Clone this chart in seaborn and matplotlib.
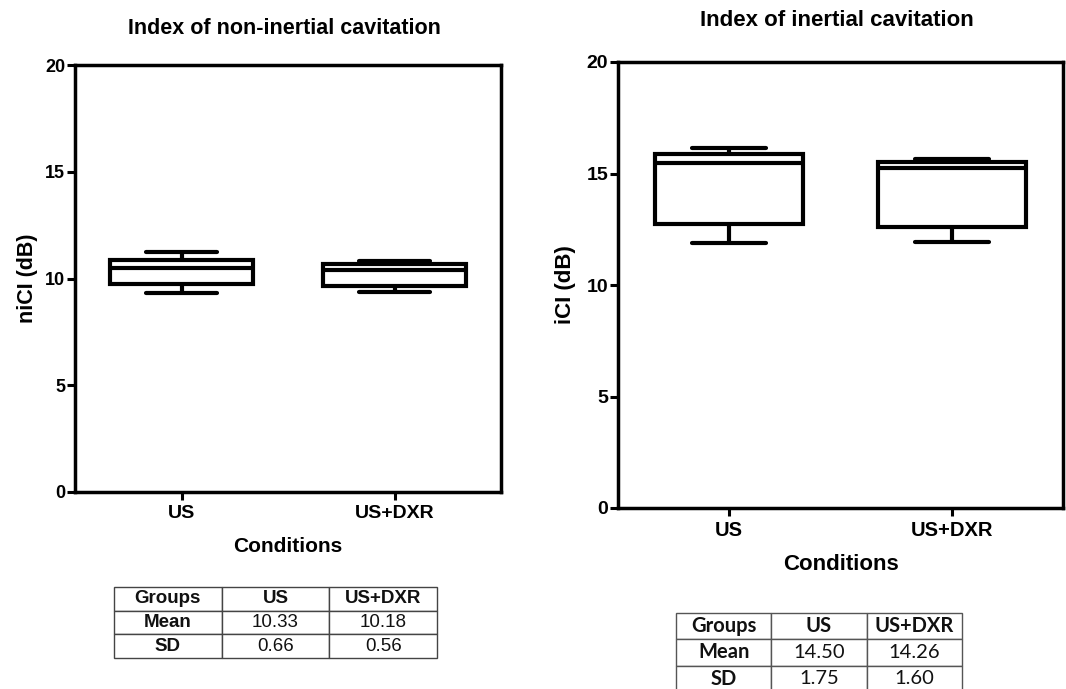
import numpy as np
import pandas as pd
import matplotlib
matplotlib.use("Agg")
import matplotlib.pyplot as plt
import seaborn as sns

# ---------------- data ----------------
categories = ["US", "US+DXR"]
# five-number summaries: min, Q1, median, Q3, max
nici_us = [9.34, 9.76, 10.48, 10.88, 11.22]
nici_dxr = [9.39, 9.67, 10.38, 10.68, 10.81]
ici_us = [11.88, 12.75, 15.45, 15.86, 16.16]
ici_dxr = [11.94, 12.59, 15.25, 15.52, 15.67]
yticks = [0, 5, 10, 15, 20]

table_header = ["Groups", "US", "US+DXR"]
row_names = ["Mean", "SD"]
nici_mean = ["10.33", "10.18"]
nici_sd = ["0.66", "0.56"]
ici_mean = ["14.50", "14.26"]
ici_sd = ["1.75", "1.60"]

sns.set_theme(style="ticks")
plt.rcParams["font.family"] = ["Liberation Sans", "DejaVu Sans"]
plt.rcParams["font.weight"] = "bold"
plt.rcParams["text.color"] = "black"
plt.rcParams["axes.labelcolor"] = "black"
plt.rcParams["xtick.color"] = "black"
plt.rcParams["ytick.color"] = "black"

W, H = 1066, 689
fig = plt.figure(figsize=(W / 100, H / 100), dpi=100)
fig.patch.set_facecolor("white")


def px_axes(x0, y0, x1, y1):
    return fig.add_axes([x0 / W, 1 - y1 / H, (x1 - x0) / W, (y1 - y0) / H])


def make_df(a, b):
    return pd.DataFrame({
        "Condition": [categories[0]] * len(a) + [categories[1]] * len(b),
        "value": list(a) + list(b),
    })


def draw_box(ax, df, ylabel, tick_fs, xtick_fs, xlabel_fs, ylabel_fs,
             xlab_y, ylab_x):
    sns.boxplot(data=df, x="Condition", y="value", order=categories,
                whis=(0, 100), width=0.667, color="white", linecolor="black",
                linewidth=3.0, showfliers=False, saturation=1, ax=ax)
    ax.set_ylim(0, 20)
    ax.set_xlim(-0.5, 1.5)
    ax.set_yticks(yticks)
    ax.set_yticklabels([str(t) for t in yticks])
    for sp in ax.spines.values():
        sp.set_visible(True)
        sp.set_linewidth(2.5)
        sp.set_color("black")
    ax.tick_params(axis="y", length=5.5, width=2.2, pad=1.5,
                   labelsize=tick_fs, colors="black")
    ax.tick_params(axis="x", length=5.5, width=2.2, pad=4,
                   labelsize=xtick_fs, colors="black")
    for lab in ax.get_xticklabels() + ax.get_yticklabels():
        lab.set_fontweight("bold")
        lab.set_color("black")
    ax.set_xlabel("Conditions", fontsize=xlabel_fs, fontweight="bold",
                  color="black")
    ax.xaxis.set_label_coords(0.5, xlab_y)
    ax.xaxis.label.set_va("baseline")
    ax.set_ylabel(ylabel, fontsize=ylabel_fs, fontweight="bold",
                  color="black")
    ax.yaxis.set_label_coords(ylab_x, 0.5)
    ax.yaxis.label.set_va("center")
    ax.set_facecolor("white")


# left panel
ax1 = px_axes(75, 65, 501, 492)
draw_box(ax1, make_df(nici_us, nici_dxr), "niCI (dB)", 13, 14, 15, 15.5,
         (492 - 552) / 427, (27 - 75) / 426)
fig.text(284 / W, 1 - 34 / H, "Index of non-inertial cavitation",
         ha="center", va="baseline", fontsize=15.5, fontweight="bold",
         color="black")

# right panel
ax2 = px_axes(618, 62, 1063, 508)
draw_box(ax2, make_df(ici_us, ici_dxr), "iCI (dB)", 14, 14.5, 16, 16,
         (508 - 570) / 446, (565 - 618) / 445)
fig.text(837 / W, 1 - 26 / H, "Index of inertial cavitation",
         ha="center", va="baseline", fontsize=16, fontweight="bold",
         color="black")


def draw_table(rect, means, sds, family, fs, edge):
    tax = px_axes(*rect)
    tax.axis("off")
    cells = [table_header,
             [row_names[0]] + list(means),
             [row_names[1]] + list(sds)]
    tbl = tax.table(cellText=cells, cellLoc="center", bbox=[0, 0, 1, 1])
    tbl.auto_set_font_size(False)
    for (r, c), cell in tbl.get_celld().items():
        cell.set_linewidth(1.0)
        cell.set_edgecolor(edge)
        cell.set_facecolor("white")
        t = cell.get_text()
        t.set_fontfamily(family)
        t.set_fontsize(fs)
        t.set_color("#111111")
        t.set_fontweight("bold" if (r == 0 or c == 0) else "normal")
    return tbl


draw_table((114, 587, 437, 658), nici_mean, nici_sd,
           "Liberation Sans", 13.5, "#444444")
draw_table((676, 613, 962, 692), ici_mean, ici_sd,
           "Lato", 14.5, "#555555")

fig.savefig("out.png", dpi=100, facecolor="white")
